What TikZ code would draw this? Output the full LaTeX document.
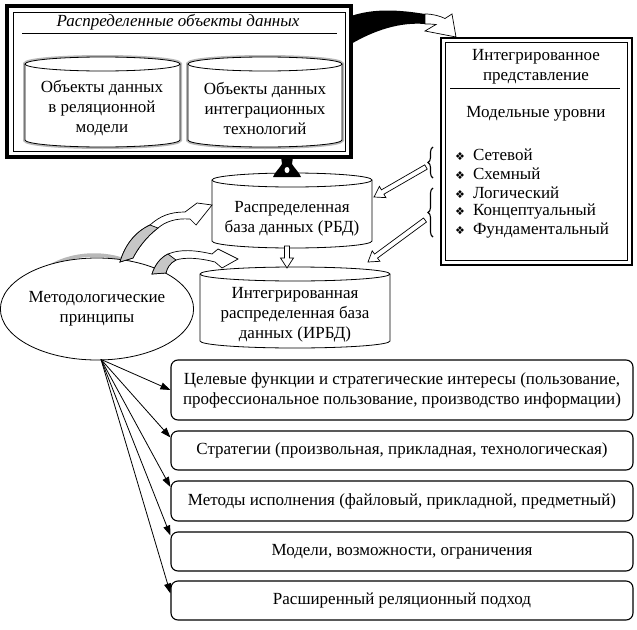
\documentclass[tikz,border=0pt]{standalone}
\usepackage{fontspec}
\setmainfont{Liberation Serif}
\newfontfamily\dejavu{DejaVu Sans}
\usetikzlibrary{calc,arrows.meta,decorations.pathreplacing,shapes.geometric}
\newcommand\fs{\fontsize{17}{20}\selectfont}
\newcommand\bul{{\dejavu\fontsize{11}{11}\selectfont ❖}}
% cylinder: [style]{x1}{x2}{ytop}{ybottom}{ry}
\newcommand\cyl[6][]{%
 \draw[#1] (#2,#4+#6) -- (#2,#5) arc[start angle=180,end angle=0,x radius={(#3-#2)/2},y radius=#6] -- (#3,#4+#6) arc[start angle=0,end angle=-180,x radius={(#3-#2)/2},y radius=#6] -- cycle;
 \draw[line width=0.8pt] (#2,#4+#6) arc[start angle=180,end angle=0,x radius={(#3-#2)/2},y radius=#6];}
% hollow straight arrow from #1 to #2
\newcommand\hollowarrow[2]{%
 \draw[line width=0.7pt, fill=white]
 ($(#1)!2.5pt!90:(#2)$) --
 ($(#2)!10pt!(#1)!2.5pt!-90:(#1)$) --
 ($(#2)!10pt!(#1)!6.5pt!-90:(#1)$) --
 (#2) --
 ($(#2)!10pt!(#1)!6.5pt!90:(#1)$) --
 ($(#2)!10pt!(#1)!2.5pt!90:(#1)$) --
 ($(#1)!2.5pt!-90:(#2)$) -- cycle;}
\begin{document}
\begin{tikzpicture}[x=1pt,y=-1pt,
  every node/.style={font=\fs, align=center, inner sep=0pt},
  box/.style={draw, rounded corners=7pt, line width=1.1pt, minimum width=462pt},
  lnk/.style={line width=0.8pt, -{Triangle[length=10pt,width=7pt]}},
  shade/.style={draw=gray!55, line width=4pt},
  cylw/.style={fill=white, line width=0.8pt}
]
\useasboundingbox (0,0) rectangle (637,629);

% ---- big box
\draw[line width=3.5pt] (7,6) rectangle (351,157);
\draw[line width=0.7pt] (13,12) rectangle (345,151);
\node[font=\fs\itshape] (title) at (178,22) {Распределенные объекты данных};
\draw[line width=0.8pt] (22,33) -- (337,33);
\cyl[shade]{25}{180}{57}{140}{7}
\cyl[cylw]{25}{180}{57}{140}{7}
\cyl[shade]{188}{342}{57}{140}{7}
\cyl[cylw]{188}{342}{57}{140}{7}
\node (c1) at (102,108) {Объекты данных\\в реляционной\\модели};
\node (c2) at (265,108) {Объекты данных\\интеграционных\\технологий};

% ---- black curved connector to right box
\fill (351,16) .. controls (375,8) and (400,10) .. (425,14) -- (425,24) .. controls (400,22) and (375,30) .. (351,44) -- cycle;
\draw[fill=white, line width=0.7pt] (425,14) .. controls (433,14) and (440,16) .. (445,18.5) -- (452,14) -- (456,37) -- (425,31) -- (436,24.5) .. controls (432,24) and (428,24) .. (425,24) -- cycle;

% ---- right box
\draw[line width=2.4pt] (441,38) rectangle (632,265);
\draw[line width=0.6pt] (445.5,42.5) rectangle (627.5,260.5);
\node (ip) at (536,67) {Интегрированное\\представление};
\draw[line width=0.8pt] (450,88) -- (620,88);
\node (mu) at (536,114) {Модельные уровни};
\node[anchor=west] (l1) at (455,155) {\bul\hspace{8pt}Сетевой};
\node[anchor=west] (l2) at (455,174) {\bul\hspace{8pt}Схемный};
\node[anchor=west] (l3) at (455,193) {\bul\hspace{8pt}Логический};
\node[anchor=west] (l4) at (455,212) {\bul\hspace{8pt}Концептуальный};
\node[anchor=west] (l5) at (455,231) {\bul\hspace{8pt}Фундаментальный};
\draw[line width=1.1pt, decorate, decoration={brace, amplitude=5pt}] (433,178) -- (433,147);
\draw[line width=1.1pt, decorate, decoration={brace, amplitude=5pt}] (433,237) -- (433,188);
\coordinate (br1) at (426,167);
\coordinate (br2) at (425,220);

% ---- RBD / IRBD
\cyl[cylw]{212}{372}{173}{241}{7}
\node (rbd) at (292,219) {Распределенная\\база данных (РБД)};
\fill (281,157) -- (293,157) -- (292,164) .. controls (295,169) and (299,172) .. (301,177) -- (273,177) .. controls (275,172) and (279,169) .. (282,164) -- cycle;
\fill[white] (287,170) ellipse [x radius=2.5, y radius=3];
\cyl[cylw]{200}{390}{267}{341}{7}
\node (irbd) at (295,315) {Интегрированная\\распределенная база\\данных (ИРБД)};
\coordinate (rbdr) at (374,197);
\coordinate (irbdr) at (368,262);
\coordinate (rbdb) at (287,246);
\coordinate (irbdt) at (287,268);
\hollowarrow{br1}{rbdr}
\hollowarrow{br2}{irbdr}
\hollowarrow{rbdb}{irbdt}

% ---- ellipse
\draw[gray!55, line width=3.5pt] (94,306) ellipse [x radius=70, y radius=51];
\node[ellipse, draw, fill=white, line width=0.8pt, minimum width=142pt, minimum height=102pt] (mp) at (97,309) {Методологические\\принципы};

% ---- gray curved arrows
\draw[fill=white, line width=0.7pt] (120,262) .. controls (125,245) and (135,232) .. (150,225)
  .. controls (160,216) and (170,212) .. (185,212) -- (197,203) -- (212,205) -- (196,225) -- (190,219)
  .. controls (175,218) and (165,222) .. (158,228) .. controls (145,238) and (137,250) .. (133,258) -- cycle;
\draw[fill=gray!45, line width=0.7pt] (120,262) .. controls (125,245) and (135,232) .. (150,225) -- (158,228) .. controls (145,238) and (137,250) .. (133,258) -- cycle;
\draw[fill=white, line width=0.7pt] (152,274) .. controls (155,265) and (160,258) .. (168,254)
  .. controls (180,249) and (195,250) .. (212,254) -- (218,249) -- (238,259) -- (222,268) -- (215,262)
  .. controls (200,258) and (185,257) .. (176,260) .. controls (170,263) and (167,268) .. (166,273) -- cycle;
\draw[fill=gray!45, line width=0.7pt] (152,274) .. controls (155,265) and (160,258) .. (168,254) -- (176,260) .. controls (170,263) and (167,268) .. (166,273) -- cycle;

% ---- bottom boxes
\node[box, minimum height=60pt] (b1) at (402,390) {Целевые функции и стратегические интересы (пользование,\\профессиональное пользование, производство информации)};
\node[box, minimum height=39pt] (b2) at (402,450.5) {Стратегии (произвольная, прикладная, технологическая)};
\node[box, minimum height=40pt] (b3) at (402,501) {Методы исполнения (файловый, прикладной, предметный)};
\node[box, minimum height=39pt] (b4) at (402,551.5) {Модели, возможности, ограничения};
\node[box, minimum height=39pt] (b5) at (402,600.5) {Расширенный реляционный подход};

\coordinate (o) at ($(mp.south)+(4,-1)$);
\draw[lnk] (o) -- (b1.west);
\draw[lnk] (o) -- ($(b2.west)+(0,-13)$);
\draw[lnk] (o) -- ($(b3.west)+(0,-14)$);
\draw[lnk] (o) -- ($(b4.west)+(0,-16)$);
\draw[lnk] (o) -- ($(b5.west)+(0,-7)$);
\end{tikzpicture}
\end{document}
